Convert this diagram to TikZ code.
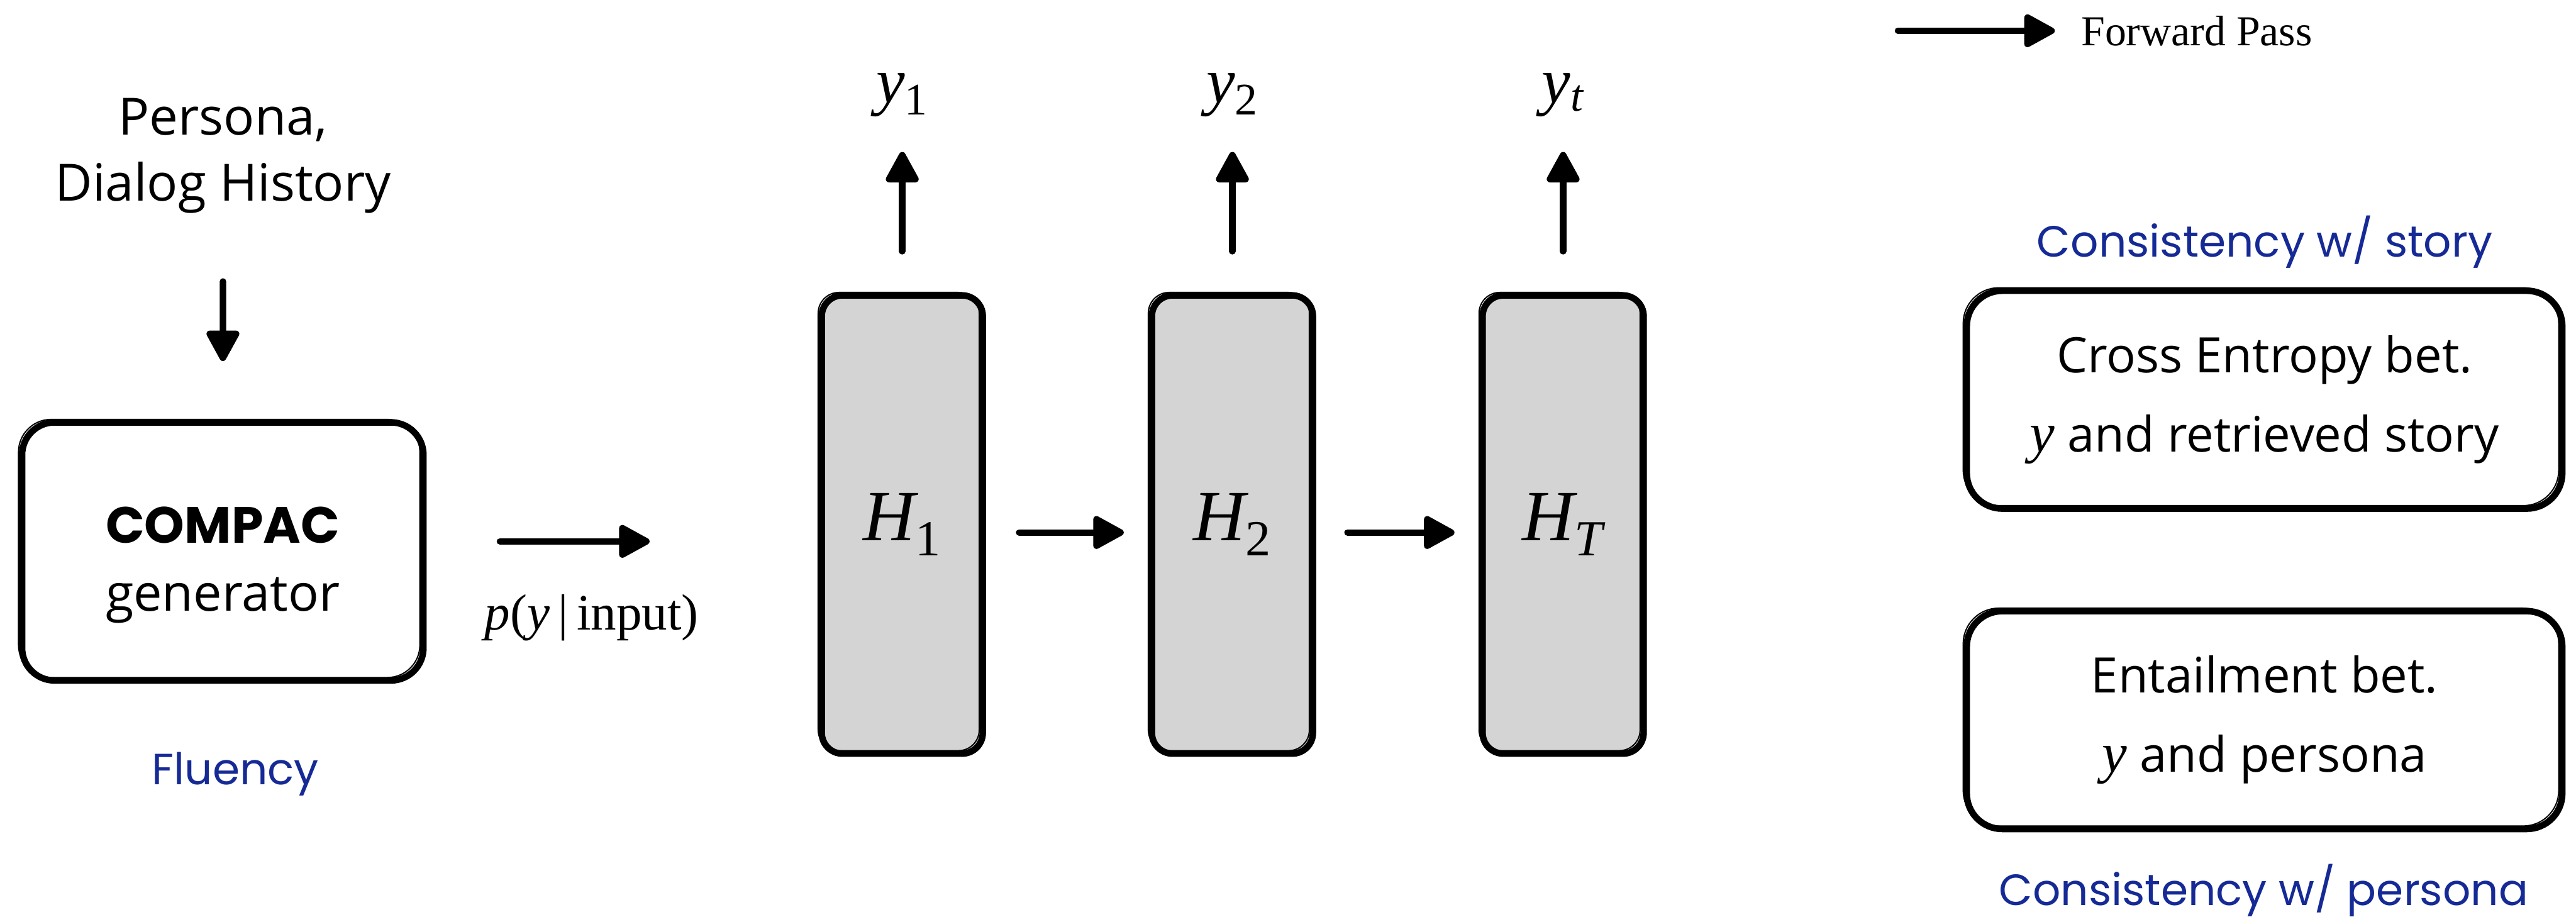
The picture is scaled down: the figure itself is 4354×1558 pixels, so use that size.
\documentclass[tikz,border=0pt]{standalone}
\usepackage{fontspec}
\setmainfont{Open Sans}
\newfontfamily\serif{Liberation Serif}
\newfontfamily\hand{Poppins}
\usetikzlibrary{arrows.meta}
\definecolor{inkblue}{RGB}{22,42,150}
\definecolor{boxgray}{RGB}{212,212,212}
\newcommand\mv[1]{{\serif\itshape #1}}
\newcommand\sbs[1]{\textsubscript{\serif #1}}
\tikzset{
 arr/.style={line width=0.11cm, line cap=round, -{Triangle[length=0.58cm,width=0.6cm,round]}},
 sketch/.style={draw, line width=0.11cm, rounded corners=#1, inner sep=0pt,
   postaction={draw, line width=0.6pt, transform canvas={shift={(-0.06cm,0.05cm)}}}},
 hbox/.style={sketch=0.35cm, fill=boxgray, minimum width=2.72cm, minimum height=7.74cm, font=\fontsize{34.7}{40}\selectfont},
 lossbox/.style={sketch=0.6cm, minimum width=10.06cm, minimum height=3.68cm, align=center, font=\fontsize{23.5}{38.1}\selectfont},
 bluelab/.style={text=inkblue, font=\hand\fontsize{21}{25}\selectfont, inner sep=0pt, anchor=base},
 ylab/.style={font=\fontsize{31}{36}\selectfont, inner sep=0pt, anchor=base, text depth=0.3cm},
}
\begin{document}
\begin{tikzpicture}[x=0.01cm,y=-0.01cm]
\useasboundingbox (0,0) rectangle (4354,1558);
% left column
\node[align=center, inner sep=0pt, font=\fontsize{24.7}{31.6}\selectfont] (persona) at (377,263) {Persona,\\Dialog History};
\node[sketch=0.55cm, minimum width=6.78cm, minimum height=4.36cm, align=center, font=\fontsize{24.5}{32.7}\selectfont] (compac) at (376.5,932) {\rule{0pt}{1.08cm}{\hand\bfseries COMPAC}\\generator};
\node[bluelab] (fluency) at (398,1326) {Fluency};
\draw[arr, shorten <=1.15cm, shorten >=0.98cm] (persona) -- (compac);
% p(y|input)
\coordinate (pa) at (845,915);
\coordinate (pb) at (1098,915);
\draw[arr] (pa) -- (pb);
\node[anchor=base, inner sep=0pt, font=\serif\fontsize{24.5}{28}\selectfont] (plab) at (1000,1065) {\textit{p}(\textit{y}\,|\,input)};
% hidden states
\node[hbox] (h1) at (1525,886.5) {\mv{H}\sbs{1}};
\node[hbox] (h2) at (2083,886.5) {\mv{H}\sbs{2}};
\node[hbox] (h3) at (2642,886.5) {\mv{H}\sbs{\itshape T}};
\node[ylab] (y1) at (1525,174) {\mv{y}\sbs{1}};
\node[ylab] (y2) at (2083,174) {\mv{y}\sbs{2}};
\node[ylab] (y3) at (2642,174) {\mv{y}\sbs{\itshape t}};
\draw[arr, shorten <=0.69cm, shorten >=0.52cm] (h1) -- (y1);
\draw[arr, shorten <=0.69cm, shorten >=0.52cm] (h2) -- (y2);
\draw[arr, shorten <=0.69cm, shorten >=0.52cm] (h3) -- (y3);
\draw[arr, shorten <=0.56cm, shorten >=0.42cm] ([yshift=-0.135cm]h1.east) -- ([yshift=-0.135cm]h2.west);
\draw[arr, shorten <=0.53cm, shorten >=0.42cm] ([yshift=-0.135cm]h2.east) -- ([yshift=-0.135cm]h3.west);
% legend
\coordinate (la) at (3208,52);
\coordinate (lb) at (3473,52);
\draw[arr] (la) -- (lb);
\node[anchor=base west, inner sep=0pt, font=\serif\fontsize{20.5}{24}\selectfont] (legend) at (3517,77) {Forward Pass};
% right column
\node[bluelab] (cstory) at (3828,434) {Consistency w/ story};
\node[lossbox] (ce) at (3827.5,675.5) {Cross Entropy bet.\\{\fontsize{27}{38.1}\selectfont\mv{y}} and retrieved story};
\node[lossbox] (ent) at (3827.5,1217) {Entailment bet.\\{\fontsize{27}{38.1}\selectfont\mv{y}} and persona};
\node[bluelab] (cpersona) at (3826,1530) {Consistency w/ persona};
\end{tikzpicture}
\end{document}
